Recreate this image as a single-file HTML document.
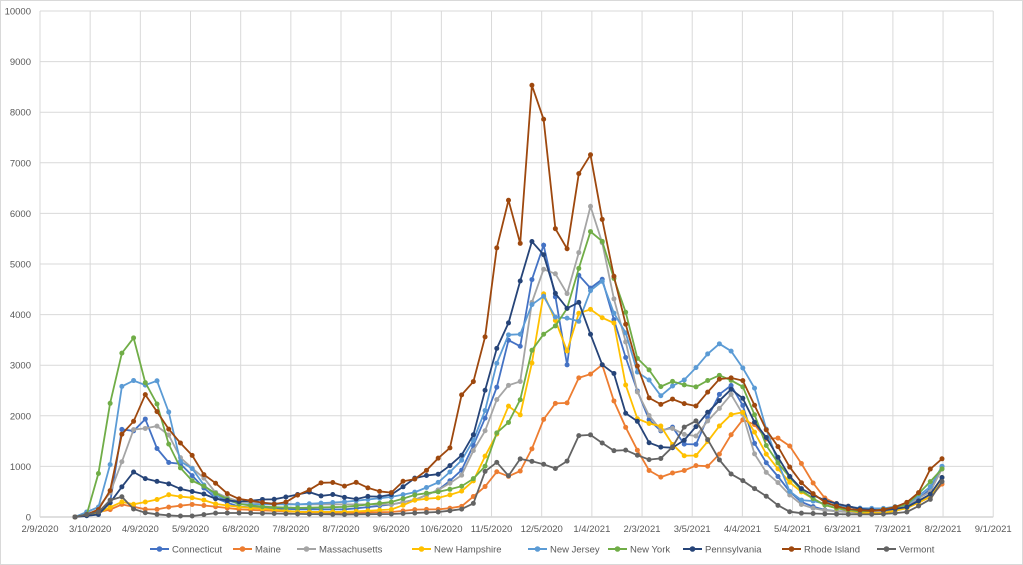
<!DOCTYPE html>
<html><head><meta charset="utf-8"><style>
body{margin:0;background:#fff}
svg{display:block;font-family:"Liberation Sans",sans-serif}
</style></head><body>
<svg id="c" width="1023" height="565" xmlns="http://www.w3.org/2000/svg">
<rect x="0.5" y="0.5" width="1022" height="564" fill="#fff" stroke="#d9d9d9"/>
<g id="grid"></g><g id="series"></g><g id="legend"></g>
</svg>
<script>
const NS="http://www.w3.org/2000/svg";
function el(t,a,p){const e=document.createElementNS(NS,t);for(const k in a)e.setAttribute(k,a[k]);p.appendChild(e);return e;}
const g=document.getElementById('grid');
const X0=40,DX=50.17,Y0=517,SY=0.0506;
for(let i=0;i<=10;i++){const y=Y0-i*1000*SY;
 el('line',{x1:X0,x2:X0+19*DX,y1:y,y2:y,stroke:i==0?'#bfbfbf':'#d9d9d9','stroke-width':1},g);
 const t=el('text',{x:31,y:y+3.5,'font-size':9.5,fill:'#595959','text-anchor':'end'},g);t.textContent=i*1000;}
const labs=["2/9/2020","3/10/2020","4/9/2020","5/9/2020","6/8/2020","7/8/2020","8/7/2020","9/6/2020","10/6/2020","11/5/2020","12/5/2020","1/4/2021","2/3/2021","3/5/2021","4/4/2021","5/4/2021","6/3/2021","7/3/2021","8/2/2021","9/1/2021"];
labs.forEach((l,i)=>{const x=X0+i*DX;
 el('line',{x1:x,x2:x,y1:11,y2:Y0,stroke:'#d9d9d9','stroke-width':1},g);
 const t=el('text',{x:x,y:532,'font-size':9.5,fill:'#595959','text-anchor':'middle'},g);t.textContent=l;});
const S=[
["Connecticut","#4472C4","75:0,99:100,111:300,122:1750,134:1700,146:1950,158:1300,170:1050,181:1050,193:800,205:550,217:350,240:200,299:150,346:150,393:250,417:350,440:550,461:900,473:1400,485:1950,496:2500,508:3500,520:3350,532:4700,543:5450,555:4500,567:2800,578:4850,590:4450,602:4850,614:4050,625:3350,637:2650,649:2100,660:1550,672:1950,684:1500,696:1350,707:1550,719:2400,731:2450,743:2750,754:1750,766:1250,778:950,790:700,801:400,813:250,837:120,872:100,895:100,919:200,942:550,954:1000"],
["Maine","#ED7D31","75:0,99:100,111:150,122:250,134:200,146:150,158:150,170:200,193:250,217:200,240:150,299:100,346:80,393:100,417:150,440:150,461:200,473:400,485:600,496:900,508:800,520:900,532:1350,543:1900,555:2250,567:2200,578:2750,590:2750,602:3150,614:2400,625:1900,637:1450,649:1000,660:750,672:850,684:900,696:950,707:1100,719:900,731:1600,743:1650,754:2150,766:1600,778:1500,790:1600,801:1300,813:950,825:550,837:300,872:150,895:120,919:180,942:400,954:650"],
["Massachusetts","#A5A5A5","75:0,99:200,111:500,122:1100,134:1750,146:1750,158:1800,170:1600,181:1150,193:950,205:750,217:450,240:300,299:250,346:250,393:250,417:350,440:550,461:800,473:1300,485:1700,496:2300,508:2600,520:2650,532:4250,543:4900,555:4850,567:4350,578:5000,590:6250,602:5650,614:4450,625:3800,637:2600,649:2150,660:1700,672:1750,684:1750,696:1450,707:1800,719:2000,731:2300,743:2550,754:1600,766:1000,778:800,790:600,801:350,813:200,837:120,872:80,895:100,919:250,942:500,954:950"],
["New Hampshire","#FFC000","75:0,99:80,111:200,122:300,134:250,146:300,158:350,170:450,181:400,193:380,205:330,217:250,240:200,299:100,346:100,393:150,417:350,440:380,461:500,473:700,485:1200,496:1600,508:2200,520:2000,532:3050,543:4450,555:3950,567:3200,578:4000,590:4150,602:3900,614:4100,625:2850,637:2000,649:1800,660:1950,672:1550,684:1250,696:1150,707:1300,719:1700,731:1900,743:2150,754:2000,766:1450,778:1100,790:850,801:600,813:450,837:200,872:80,895:80,919:180,942:400,954:780"],
["New Jersey","#5B9BD5","75:0,99:200,111:1100,122:2600,134:2700,146:2600,158:2700,170:2000,181:1050,193:950,205:600,217:400,240:250,299:250,346:300,393:400,417:500,440:700,461:1100,473:1500,485:2100,496:3000,508:3600,520:3600,532:4200,543:4400,555:3950,567:3950,578:3750,590:4400,602:4800,614:4050,625:3950,637:2850,649:2900,660:2300,672:2550,684:2650,696:2800,707:3150,719:3300,731:3550,743:3000,754:2900,766:2300,778:1350,790:900,801:300,813:350,837:250,872:170,895:170,919:250,942:600,954:1000"],
["New York","#70AD47","75:0,87:50,99:900,111:2350,122:3250,134:3550,146:2600,158:2200,170:1350,181:950,193:700,205:600,217:450,228:350,240:250,264:200,299:180,346:200,393:300,417:450,440:500,461:600,473:750,485:1000,496:1650,508:1850,520:2300,532:3300,543:3600,555:3750,567:4050,578:4750,590:5650,602:5600,614:4800,625:4400,637:3150,649:3100,660:2500,672:2700,684:2650,696:2550,707:2600,719:2800,731:2800,743:2600,754:2550,766:1650,778:1250,790:950,801:700,813:450,837:200,872:100,895:150,919:250,942:700,954:950"],
["Pennsylvania","#264478","75:0,99:50,111:300,122:600,134:900,146:750,158:700,170:650,181:550,193:500,205:450,217:350,240:300,264:350,276:350,287:400,299:450,311:500,323:400,334:450,346:380,358:350,370:420,381:400,393:450,417:800,440:850,461:1200,473:1600,485:2500,496:3300,508:3800,520:4650,532:5450,543:5250,555:4450,567:4100,578:4350,590:3750,602:3000,614:3050,625:2050,637:2050,649:1500,660:1400,672:1350,684:1400,696:1700,707:1900,719:2250,731:2350,743:2700,754:2050,766:1750,778:1450,790:1000,801:700,813:500,837:300,872:150,895:130,919:200,942:450,954:780"],
["Rhode Island","#9E480E","75:0,87:50,99:150,111:550,122:1650,134:1900,146:2450,158:2050,170:1700,181:1450,193:1200,205:800,217:650,228:450,240:350,252:320,264:280,276:250,287:300,299:450,311:550,323:700,334:680,346:600,358:700,370:550,381:500,393:480,405:750,417:750,428:950,440:1200,452:1400,461:2400,473:2650,485:3550,496:5250,508:6300,520:5350,532:8550,543:8050,555:5750,567:5150,578:6650,590:7400,602:6100,614:4950,625:4050,637:3200,649:2450,660:2150,672:2350,684:2300,696:2150,707:2250,719:2700,731:2750,743:2750,754:2650,766:1900,778:1600,790:1250,801:850,813:600,825:400,837:250,848:200,860:150,872:130,884:120,895:150,907:200,919:300,931:500,942:950,954:1150"],
["Vermont","#636363","75:0,99:100,111:350,122:400,134:150,146:80,158:50,170:30,181:20,193:20,217:80,240:80,299:60,346:50,393:60,417:80,440:100,461:150,473:250,485:900,496:1100,508:800,520:1150,532:1100,543:1050,555:950,567:1050,578:1600,590:1650,602:1500,614:1300,625:1350,637:1250,649:1150,660:1100,672:1250,684:1600,696:2050,707:1700,719:1350,731:900,743:800,754:650,766:500,778:350,790:150,801:80,837:60,872:50,895:60,919:100,942:350,954:700"]];
const sg=document.getElementById('series');
function mapx(x){return x<=532?x:532+(x-532)*(942-532)/(954-532);}
S.forEach(s=>{
 const kp=s[2].split(',').map(p=>p.split(':').map(Number)).map(p=>[mapx(p[0]),p[1]]);
 const pts=[];
 for(let k=0;k<=74;k++){const x=75+k*(942-75)/74;
  let v=kp[kp.length-1][1];
  for(let i=0;i<kp.length-1;i++){if(x>=kp[i][0]-0.01&&x<=kp[i+1][0]+0.01){const t=Math.min(1,Math.max(0,(x-kp[i][0])/(kp[i+1][0]-kp[i][0])));v=kp[i][1]+t*(kp[i+1][1]-kp[i][1]);break;}}
  pts.push([x,Y0-v*SY]);}
 el('polyline',{points:pts.map(p=>p[0].toFixed(1)+','+p[1].toFixed(1)).join(' '),fill:'none',stroke:s[1],'stroke-width':1.8},sg);
 pts.forEach(p=>el('circle',{cx:p[0],cy:p[1],r:2.5,fill:s[1]},sg));
});
const lg=document.getElementById('legend');
const lx=[150,233,297,412,528,608,683,782,877];
S.forEach((s,i)=>{const x=lx[i];
 el('line',{x1:x,x2:x+19,y1:549,y2:549,stroke:s[1],'stroke-width':2},lg);
 el('circle',{cx:x+9.5,cy:549,r:2.8,fill:s[1]},lg);
 const t=el('text',{x:x+22,y:552.5,'font-size':9.5,fill:'#595959'},lg);t.textContent=s[0];});
</script>
</body></html>
